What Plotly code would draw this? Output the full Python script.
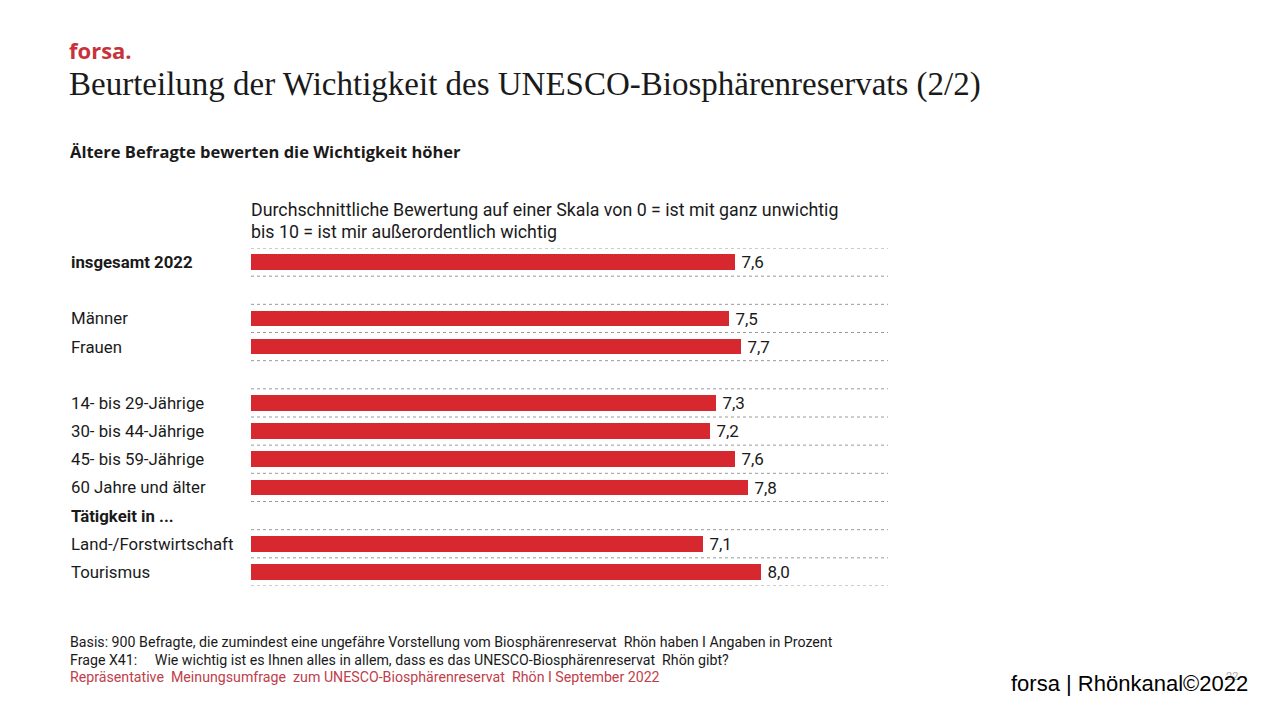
import plotly.graph_objects as go

categories = ["insgesamt 2022", "", "Männer", "Frauen", "",
              "14- bis 29-Jährige", "30- bis 44-Jährige", "45- bis 59-Jährige",
              "60 Jahre und älter", "Tätigkeit in ...", "Land-/Forstwirtschaft", "Tourismus"]
values = [7.6, None, 7.5, 7.7, None, 7.3, 7.2, 7.6, 7.8, None, 7.1, 8.0]
bold_rows = ["insgesamt 2022", "Tätigkeit in ..."]

RED = "#D7282F"
TXT = "#1a1a1a"
SANS = "Roboto, 'Liberation Sans', sans-serif"

# page offset (body margin) and plot area in page pixels
OFF = 8
PX0, PX1 = 251, 888
PY0, PY1 = 248, 586

rows = list(range(len(categories)))
bar_y = [r for r, v in zip(rows, values) if v is not None]
bar_x = [v for v in values if v is not None]
bar_t = ["\u2009" + f"{v:.1f}".replace(".", ",") for v in bar_x]

fig = go.Figure()
fig.add_trace(go.Bar(
    x=bar_x, y=bar_y, orientation="h", width=0.56,
    marker=dict(color=RED, line=dict(width=0)),
    text=bar_t, textposition="outside", cliponaxis=False, constraintext="none",
    textfont=dict(family=SANS, size=17, color=TXT),
    hoverinfo="skip",
))

shapes = []
for i in range(-1, len(categories)):
    shapes.append(dict(type="line", xref="x", yref="y", x0=0, x1=10,
                       y0=i + 0.5, y1=i + 0.5,
                       line=dict(color="#9a9a9a", width=1, dash="dot")))

annotations = []

def px_x(x):
    return (x - PX0) / (PX1 - PX0)

def px_y(y):
    return (PY1 - y) / (PY1 - PY0)

for r, c in zip(rows, categories):
    if not c:
        continue
    txt = f"<b>{c}</b>" if c in bold_rows else c
    annotations.append(dict(xref="paper", yref="y", x=px_x(69), y=r, text=txt,
                            xanchor="left", yanchor="middle", showarrow=False,
                            font=dict(family=SANS, size=16.8, color=TXT)))

def ptext(x, y, text, size, color=TXT, family=SANS, xanchor="left", yanchor="middle"):
    annotations.append(dict(xref="paper", yref="paper", x=px_x(x), y=px_y(y),
                            text=text, xanchor=xanchor, yanchor=yanchor, showarrow=False,
                            font=dict(family=family, size=size, color=color)))

ptext(67, 50, "<b>forsa.</b>", 22, color="#C8323A", family="'Open Sans', 'Liberation Sans', sans-serif")
ptext(67, 84, "Beurteilung der Wichtigkeit des UNESCO-Biosphärenreservats (2/2)", 33,
      family="'Liberation Serif', 'DejaVu Serif', serif")
ptext(68, 151, "<b>Ältere Befragte bewerten die Wichtigkeit höher</b>", 16.5,
      family="'Open Sans', Roboto, sans-serif")
ptext(249, 209, "Durchschnittliche Bewertung auf einer Skala von 0 = ist mit ganz unwichtig", 17.8)
ptext(249, 231, "bis 10 = ist mir außerordentlich wichtig", 17.8)
ptext(68, 642, "Basis: 900 Befragte, die zumindest eine ungefähre Vorstellung vom Biosphärenreservat  Rhön haben I Angaben in Prozent", 14.2)
ptext(68, 660, "Frage X41:     Wie wichtig ist es Ihnen alles in allem, dass es das UNESCO-Biosphärenreservat  Rhön gibt?", 14.2)
ptext(68, 677, "Repräsentative  Meinungsumfrage  zum UNESCO-Biosphärenreservat  Rhön I September 2022", 14.2, color="#C0404A")
ptext(1240, 676, "22", 11, color="#aaaaaa", xanchor="right")
ptext(1250, 683, "forsa | Rhönkanal©2022", 22, color="#000000",
      family="'Liberation Sans', Arial, sans-serif", xanchor="right")

fig.update_layout(
    width=1280, height=720,
    margin=dict(l=PX0 - OFF, r=1280 - PX1 + OFF, t=PY0 - OFF, b=720 - PY1 + OFF, autoexpand=False),
    paper_bgcolor="white", plot_bgcolor="white",
    showlegend=False,
    xaxis=dict(range=[0, 10], visible=False, fixedrange=True),
    yaxis=dict(range=[len(categories) - 0.5, -0.5], visible=False, fixedrange=True),
    shapes=shapes, annotations=annotations,
    bargap=0,
)

fig.write_html("out.html")
